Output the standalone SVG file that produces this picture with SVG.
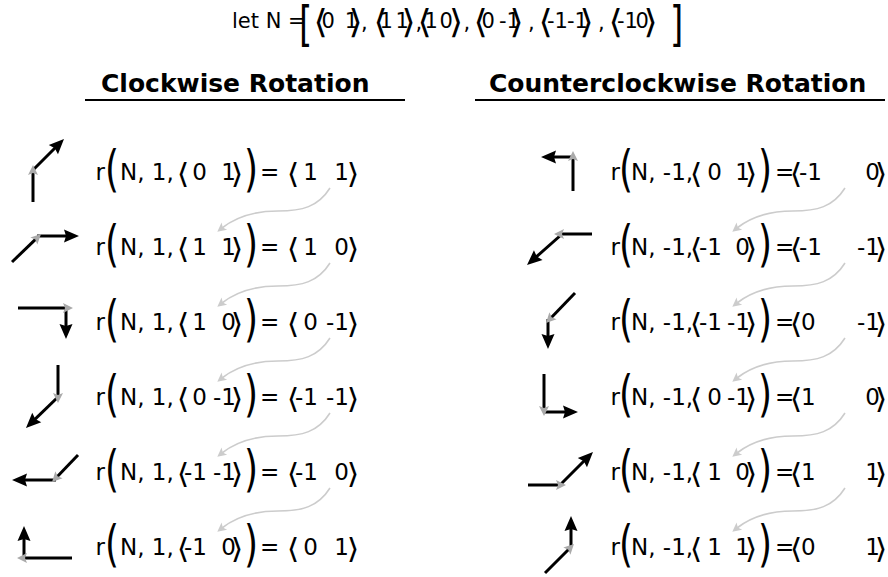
<svg xmlns="http://www.w3.org/2000/svg" width="888" height="577" viewBox="0 0 888 577">
<style>
text{font-family:"DejaVu Sans","Liberation Sans",sans-serif;fill:#000}
.t{font-size:23px}
.s{font-size:21px}
.ab{font-size:28px}
.abt{font-size:33px}
.bp{font-size:36px}
.bk{font-size:34px}
.h{font-size:25px;font-weight:bold}
.e{text-anchor:end}
.l1{stroke:#000;stroke-width:3;fill:none;marker-end:url(#gh)}
.l2{stroke:#000;stroke-width:3;fill:none;marker-end:url(#bh)}
.cn{stroke:#cccccc;stroke-width:1.6;fill:none;marker-end:url(#ch)}
</style>
<defs>
<marker id="bh" markerUnits="userSpaceOnUse" viewBox="-4 -7 17 14" refX="0" refY="0" markerWidth="17" markerHeight="14" orient="auto"><path d="M12,0 L-3,-6.5 L-1,0 L-3,6.5 Z" fill="#000"/></marker>
<marker id="gh" markerUnits="userSpaceOnUse" viewBox="-4 -6 12 12" refX="0" refY="0" markerWidth="12" markerHeight="12" orient="auto"><path d="M7,0 L-3,-5 L-1,0 L-3,5 Z" fill="#aaaaaa"/></marker>
<marker id="ch" markerUnits="userSpaceOnUse" viewBox="-4 -6 11 12" refX="0" refY="0" markerWidth="11" markerHeight="12" orient="auto"><path d="M6,0 L-3,-4.5 L-1,0 L-3,4.5 Z" fill="#cccccc"/></marker>
</defs>

<g id="def-N">
<text class="s" x="232" y="28">let N =</text>
<text class="bk" transform="translate(299,41) scale(1,1.4)">[</text>
<text class="abt" transform="translate(313.4,33) scale(1.1,1)">⟨</text><text class="s" x="321.6" y="28">0</text><text class="s" x="344.7" y="28">1</text><text class="abt" transform="translate(348.4,33) scale(1.1,1)">⟩</text><text class="s" x="361" y="30">,</text>
<text class="abt" transform="translate(373.4,33) scale(1.1,1)">⟨</text><text class="s" x="379.5" y="28">1</text><text class="s" x="395.5" y="28">1</text><text class="abt" transform="translate(401.4,33) scale(1.1,1)">⟩</text><text class="s" x="415.5" y="30">,</text>
<text class="abt" transform="translate(417.4,33) scale(1.1,1)">⟨</text><text class="s" x="424.5" y="28">1</text><text class="s" x="439.6" y="28">0</text><text class="abt" transform="translate(449,33) scale(1.1,1)">⟩</text><text class="s" x="463.5" y="30">,</text>
<text class="abt" transform="translate(473.4,33) scale(1.1,1)">⟨</text><text class="s" x="481.6" y="28">0</text><text class="s" x="499" y="28">-1</text><text class="abt" transform="translate(509.4,33) scale(1.1,1)">⟩</text><text class="s" x="528" y="30">,</text>
<text class="abt" transform="translate(538.4,33) scale(1.1,1)">⟨</text><text class="s" x="547" y="28">-1</text><text class="s" x="567" y="28">-1</text><text class="abt" transform="translate(579.4,33) scale(1.1,1)">⟩</text><text class="s" x="598" y="30">,</text>
<text class="abt" transform="translate(608.4,33) scale(1.1,1)">⟨</text><text class="s" x="617" y="28">-1</text><text class="s" x="635.6" y="28">0</text><text class="abt" transform="translate(643.4,33) scale(1.1,1)">⟩</text>
<text class="bk" transform="translate(670,41) scale(1,1.4)">]</text>
</g>

<g id="heading-cw">
<text class="h" x="101" y="92">Clockwise Rotation</text>
<line x1="85" y1="100" x2="405" y2="100" stroke="#000" stroke-width="2"/>
</g>
<g id="heading-ccw">
<text class="h" x="489" y="92">Counterclockwise Rotation</text>
<line x1="475" y1="100" x2="885" y2="100" stroke="#000" stroke-width="2"/>
</g>

<!-- Clockwise rows -->
<g id="cw-1">
<line class="l2" x1="34" y1="169" x2="55.5" y2="147.5"/>
<line class="l1" x1="33" y1="202" x2="33" y2="172"/>
<g>
<text class="t" x="95.5" y="180">r</text><text class="bp" transform="translate(105,185.5) scale(1,1.37)">(</text><text class="t" x="120" y="180">N, 1,</text>
<text class="ab" transform="translate(176.8,183.3) scale(1.15,1)">⟨</text><text class="t e" x="207" y="180">0</text><text class="t e" x="236" y="180">1</text><text class="ab" transform="translate(230.8,183.3) scale(1.15,1)">⟩</text>
<text class="bp" transform="translate(244,185.5) scale(1,1.37)">)</text><text class="t" x="260" y="180">=</text>
<text class="ab" transform="translate(286.8,183.3) scale(1.15,1)">⟨</text><text class="t e" x="318" y="180">1</text><text class="t e" x="349" y="180">1</text><text class="ab" transform="translate(346.8,183.3) scale(1.15,1)">⟩</text>
</g>
</g>
<g id="cw-2">
<line class="l2" x1="37" y1="236" x2="67" y2="236"/>
<line class="l1" x1="12" y1="262" x2="36" y2="238.9"/>
<g transform="translate(0,75)">
<text class="t" x="95.5" y="180">r</text><text class="bp" transform="translate(105,185.5) scale(1,1.37)">(</text><text class="t" x="120" y="180">N, 1,</text>
<text class="ab" transform="translate(176.8,183.3) scale(1.15,1)">⟨</text><text class="t e" x="207" y="180">1</text><text class="t e" x="236" y="180">1</text><text class="ab" transform="translate(230.8,183.3) scale(1.15,1)">⟩</text>
<text class="bp" transform="translate(244,185.5) scale(1,1.37)">)</text><text class="t" x="260" y="180">=</text>
<text class="ab" transform="translate(286.8,183.3) scale(1.15,1)">⟨</text><text class="t e" x="318" y="180">1</text><text class="t e" x="349" y="180">0</text><text class="ab" transform="translate(346.8,183.3) scale(1.15,1)">⟩</text>
</g>
</g>
<g id="cw-3">
<line class="l2" x1="66" y1="307" x2="66" y2="327"/>
<line class="l1" x1="18" y1="308" x2="66" y2="308"/>
<g transform="translate(0,150)">
<text class="t" x="95.5" y="180">r</text><text class="bp" transform="translate(105,185.5) scale(1,1.37)">(</text><text class="t" x="120" y="180">N, 1,</text>
<text class="ab" transform="translate(176.8,183.3) scale(1.15,1)">⟨</text><text class="t e" x="207" y="180">1</text><text class="t e" x="236" y="180">0</text><text class="ab" transform="translate(230.8,183.3) scale(1.15,1)">⟩</text>
<text class="bp" transform="translate(244,185.5) scale(1,1.37)">)</text><text class="t" x="260" y="180">=</text>
<text class="ab" transform="translate(286.8,183.3) scale(1.15,1)">⟨</text><text class="t e" x="318" y="180">0</text><text class="t e" x="349" y="180">-1</text><text class="ab" transform="translate(346.8,183.3) scale(1.15,1)">⟩</text>
</g>
</g>
<g id="cw-4">
<line class="l2" x1="58" y1="397" x2="34.6" y2="419.6"/>
<line class="l1" x1="58" y1="365" x2="58" y2="396"/>
<g transform="translate(0,225)">
<text class="t" x="95.5" y="180">r</text><text class="bp" transform="translate(105,185.5) scale(1,1.37)">(</text><text class="t" x="120" y="180">N, 1,</text>
<text class="ab" transform="translate(176.8,183.3) scale(1.15,1)">⟨</text><text class="t e" x="207" y="180">0</text><text class="t e" x="236" y="180">-1</text><text class="ab" transform="translate(230.8,183.3) scale(1.15,1)">⟩</text>
<text class="bp" transform="translate(244,185.5) scale(1,1.37)">)</text><text class="t" x="260" y="180">=</text>
<text class="ab" transform="translate(286.8,183.3) scale(1.15,1)">⟨</text><text class="t e" x="318" y="180">-1</text><text class="t e" x="349" y="180">-1</text><text class="ab" transform="translate(346.8,183.3) scale(1.15,1)">⟩</text>
</g>
</g>
<g id="cw-5">
<line class="l2" x1="56" y1="480" x2="24" y2="480"/>
<line class="l1" x1="78" y1="455" x2="56.9" y2="477"/>
<g transform="translate(0,300)">
<text class="t" x="95.5" y="180">r</text><text class="bp" transform="translate(105,185.5) scale(1,1.37)">(</text><text class="t" x="120" y="180">N, 1,</text>
<text class="ab" transform="translate(176.8,183.3) scale(1.15,1)">⟨</text><text class="t e" x="207" y="180">-1</text><text class="t e" x="236" y="180">-1</text><text class="ab" transform="translate(230.8,183.3) scale(1.15,1)">⟩</text>
<text class="bp" transform="translate(244,185.5) scale(1,1.37)">)</text><text class="t" x="260" y="180">=</text>
<text class="ab" transform="translate(286.8,183.3) scale(1.15,1)">⟨</text><text class="t e" x="318" y="180">-1</text><text class="t e" x="349" y="180">0</text><text class="ab" transform="translate(346.8,183.3) scale(1.15,1)">⟩</text>
</g>
</g>
<g id="cw-6">
<line class="l2" x1="24" y1="558" x2="24" y2="538"/>
<line class="l1" x1="72" y1="558" x2="24" y2="558"/>
<g transform="translate(0,375)">
<text class="t" x="95.5" y="180">r</text><text class="bp" transform="translate(105,185.5) scale(1,1.37)">(</text><text class="t" x="120" y="180">N, 1,</text>
<text class="ab" transform="translate(176.8,183.3) scale(1.15,1)">⟨</text><text class="t e" x="207" y="180">-1</text><text class="t e" x="236" y="180">0</text><text class="ab" transform="translate(230.8,183.3) scale(1.15,1)">⟩</text>
<text class="bp" transform="translate(244,185.5) scale(1,1.37)">)</text><text class="t" x="260" y="180">=</text>
<text class="ab" transform="translate(286.8,183.3) scale(1.15,1)">⟨</text><text class="t e" x="318" y="180">0</text><text class="t e" x="349" y="180">1</text><text class="ab" transform="translate(346.8,183.3) scale(1.15,1)">⟩</text>
</g>
</g>

<!-- Counterclockwise rows -->
<g id="ccw-1">
<line class="l2" x1="573" y1="157" x2="553" y2="157"/>
<line class="l1" x1="573" y1="191" x2="573" y2="158"/>
<g>
<text class="t" x="610.5" y="180">r</text><text class="bp" transform="translate(619,185.5) scale(1,1.37)">(</text><text class="t" x="631" y="180">N, -1,</text>
<text class="ab" transform="translate(689.8,183.3) scale(1.15,1)">⟨</text><text class="t e" x="722" y="180">0</text><text class="t e" x="750" y="180">1</text><text class="ab" transform="translate(744.8,183.3) scale(1.15,1)">⟩</text>
<text class="bp" transform="translate(758,185.5) scale(1,1.37)">)</text><text class="t" x="775" y="180">=</text>
<text class="ab" transform="translate(789.8,183.3) scale(1.15,1)">⟨</text><text class="t" x="799" y="180">-1</text><text class="t e" x="880" y="180">0</text><text class="ab" transform="translate(874.8,183.3) scale(1.15,1)">⟩</text>
</g>
</g>
<g id="ccw-2">
<line class="l2" x1="561" y1="235" x2="536" y2="257.1"/>
<line class="l1" x1="592" y1="234" x2="561" y2="234"/>
<g transform="translate(0,75)">
<text class="t" x="610.5" y="180">r</text><text class="bp" transform="translate(619,185.5) scale(1,1.37)">(</text><text class="t" x="631" y="180">N, -1,</text>
<text class="ab" transform="translate(689.8,183.3) scale(1.15,1)">⟨</text><text class="t e" x="722" y="180">-1</text><text class="t e" x="750" y="180">0</text><text class="ab" transform="translate(744.8,183.3) scale(1.15,1)">⟩</text>
<text class="bp" transform="translate(758,185.5) scale(1,1.37)">)</text><text class="t" x="775" y="180">=</text>
<text class="ab" transform="translate(789.8,183.3) scale(1.15,1)">⟨</text><text class="t" x="799" y="180">-1</text><text class="t e" x="880" y="180">-1</text><text class="ab" transform="translate(874.8,183.3) scale(1.15,1)">⟩</text>
</g>
</g>
<g id="ccw-3">
<line class="l2" x1="548" y1="319" x2="548" y2="337"/>
<line class="l1" x1="575" y1="293" x2="550.9" y2="318"/>
<g transform="translate(0,150)">
<text class="t" x="610.5" y="180">r</text><text class="bp" transform="translate(619,185.5) scale(1,1.37)">(</text><text class="t" x="631" y="180">N, -1,</text>
<text class="ab" transform="translate(689.8,183.3) scale(1.15,1)">⟨</text><text class="t e" x="722" y="180">-1</text><text class="t e" x="750" y="180">-1</text><text class="ab" transform="translate(744.8,183.3) scale(1.15,1)">⟩</text>
<text class="bp" transform="translate(758,185.5) scale(1,1.37)">)</text><text class="t" x="775" y="180">=</text>
<text class="ab" transform="translate(789.8,183.3) scale(1.15,1)">⟨</text><text class="t" x="801" y="180">0</text><text class="t e" x="880" y="180">-1</text><text class="ab" transform="translate(874.8,183.3) scale(1.15,1)">⟩</text>
</g>
</g>
<g id="ccw-4">
<line class="l2" x1="544" y1="412" x2="566" y2="412"/>
<line class="l1" x1="544" y1="374" x2="544" y2="409"/>
<g transform="translate(0,225)">
<text class="t" x="610.5" y="180">r</text><text class="bp" transform="translate(619,185.5) scale(1,1.37)">(</text><text class="t" x="631" y="180">N, -1,</text>
<text class="ab" transform="translate(689.8,183.3) scale(1.15,1)">⟨</text><text class="t e" x="722" y="180">0</text><text class="t e" x="750" y="180">-1</text><text class="ab" transform="translate(744.8,183.3) scale(1.15,1)">⟩</text>
<text class="bp" transform="translate(758,185.5) scale(1,1.37)">)</text><text class="t" x="775" y="180">=</text>
<text class="ab" transform="translate(789.8,183.3) scale(1.15,1)">⟨</text><text class="t" x="801" y="180">1</text><text class="t e" x="880" y="180">0</text><text class="ab" transform="translate(874.8,183.3) scale(1.15,1)">⟩</text>
</g>
</g>
<g id="ccw-5">
<line class="l2" x1="560" y1="485" x2="584.5" y2="460.5"/>
<line class="l1" x1="528" y1="485" x2="559" y2="485"/>
<g transform="translate(0,300)">
<text class="t" x="610.5" y="180">r</text><text class="bp" transform="translate(619,185.5) scale(1,1.37)">(</text><text class="t" x="631" y="180">N, -1,</text>
<text class="ab" transform="translate(689.8,183.3) scale(1.15,1)">⟨</text><text class="t e" x="722" y="180">1</text><text class="t e" x="750" y="180">0</text><text class="ab" transform="translate(744.8,183.3) scale(1.15,1)">⟩</text>
<text class="bp" transform="translate(758,185.5) scale(1,1.37)">)</text><text class="t" x="775" y="180">=</text>
<text class="ab" transform="translate(789.8,183.3) scale(1.15,1)">⟨</text><text class="t" x="801" y="180">1</text><text class="t e" x="880" y="180">1</text><text class="ab" transform="translate(874.8,183.3) scale(1.15,1)">⟩</text>
</g>
</g>
<g id="ccw-6">
<line class="l2" x1="571" y1="546" x2="571" y2="528"/>
<line class="l1" x1="545" y1="573" x2="569" y2="549"/>
<g transform="translate(0,375)">
<text class="t" x="610.5" y="180">r</text><text class="bp" transform="translate(619,185.5) scale(1,1.37)">(</text><text class="t" x="631" y="180">N, -1,</text>
<text class="ab" transform="translate(689.8,183.3) scale(1.15,1)">⟨</text><text class="t e" x="722" y="180">1</text><text class="t e" x="750" y="180">1</text><text class="ab" transform="translate(744.8,183.3) scale(1.15,1)">⟩</text>
<text class="bp" transform="translate(758,185.5) scale(1,1.37)">)</text><text class="t" x="775" y="180">=</text>
<text class="ab" transform="translate(789.8,183.3) scale(1.15,1)">⟨</text><text class="t" x="801" y="180">0</text><text class="t e" x="880" y="180">1</text><text class="ab" transform="translate(874.8,183.3) scale(1.15,1)">⟩</text>
</g>
</g>

<g id="connectors">
<path class="cn" d="M330,188 C318,207 302,211 278,211 C254,211 236,217 222,228"/>
<path class="cn" d="M330,263 C318,282 302,286 278,286 C254,286 236,292 222,303"/>
<path class="cn" d="M330,338 C318,357 302,361 278,361 C254,361 236,367 222,378"/>
<path class="cn" d="M330,413 C318,432 302,436 278,436 C254,436 236,442 222,453"/>
<path class="cn" d="M330,488 C318,507 302,511 278,511 C254,511 236,517 222,528"/>
<path class="cn" d="M845,188 C833,207 817,211 793,211 C769,211 751,217 737,228"/>
<path class="cn" d="M845,263 C833,282 817,286 793,286 C769,286 751,292 737,303"/>
<path class="cn" d="M845,338 C833,357 817,361 793,361 C769,361 751,367 737,378"/>
<path class="cn" d="M845,413 C833,432 817,436 793,436 C769,436 751,442 737,453"/>
<path class="cn" d="M845,488 C833,507 817,511 793,511 C769,511 751,517 737,528"/>
</g>
</svg>
